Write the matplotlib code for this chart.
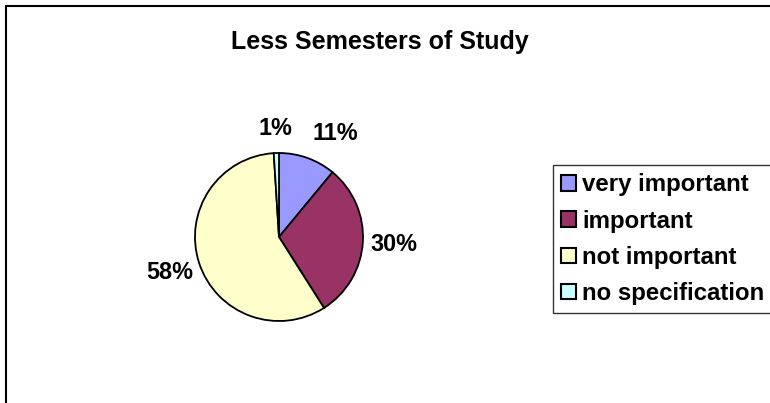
import matplotlib
matplotlib.use('Agg')
import matplotlib.pyplot as plt
from matplotlib.patches import Rectangle

# data
categories = ['very important', 'important', 'not important', 'no specification']
shares = [11, 30, 58, 1]
colors = ['#9999FF', '#993366', '#FFFFCC', '#CCFFFF']
title = 'Less Semesters of Study'

plt.rcParams['font.family'] = ['Liberation Sans', 'DejaVu Sans']
plt.rcParams['font.weight'] = 'bold'

W, H = 770, 403
fig = plt.figure(figsize=(W / 100, H / 100), dpi=100)
ax = fig.add_axes([0, 0, 1, 1])

# pie in pixel coordinates (y up)
wedges, texts, autotexts = ax.pie(
    shares, colors=colors, startangle=90, counterclock=False,
    center=(279, 166), radius=84,
    autopct='%1.0f%%', pctdistance=1.37,
    wedgeprops=dict(edgecolor='black', linewidth=1.3),
    textprops=dict(fontsize=16.8, fontweight='bold', color='black'))

ax.set_xlim(0, W)
ax.set_ylim(0, H)
ax.set_aspect('equal')
ax.axis('off')

# Excel nudges the small top labels apart
x, y = autotexts[0].get_position()
autotexts[0].set_position((x + 17, y - 5))
x, y = autotexts[3].get_position()
autotexts[3].set_position((x, y - 7))

# chart area border (runs off the right/bottom edge)
ax.add_patch(Rectangle((6, -20), W + 40, H - 6 + 20, fill=False,
                       edgecolor='black', linewidth=1.5, clip_on=False))

fig.text(380 / W, 1 - 49 / H, title, ha='center', va='baseline',
         fontsize=18, fontweight='bold')

leg = fig.legend(wedges, categories, loc='upper left',
                 bbox_to_anchor=(553 / W, 1 - 165 / H),
                 prop=dict(size=17.3, weight='bold'),
                 handlelength=0.62, handleheight=0.62, handletextpad=0.25,
                 labelspacing=0.55, borderpad=0.35, borderaxespad=0,
                 fancybox=False, frameon=True)
leg.get_frame().set_edgecolor('black')
leg.get_frame().set_linewidth(1.0)
for h in leg.legend_handles:
    h.set_edgecolor('black')
    h.set_linewidth(1.5)

fig.savefig('out.png', dpi=100)
